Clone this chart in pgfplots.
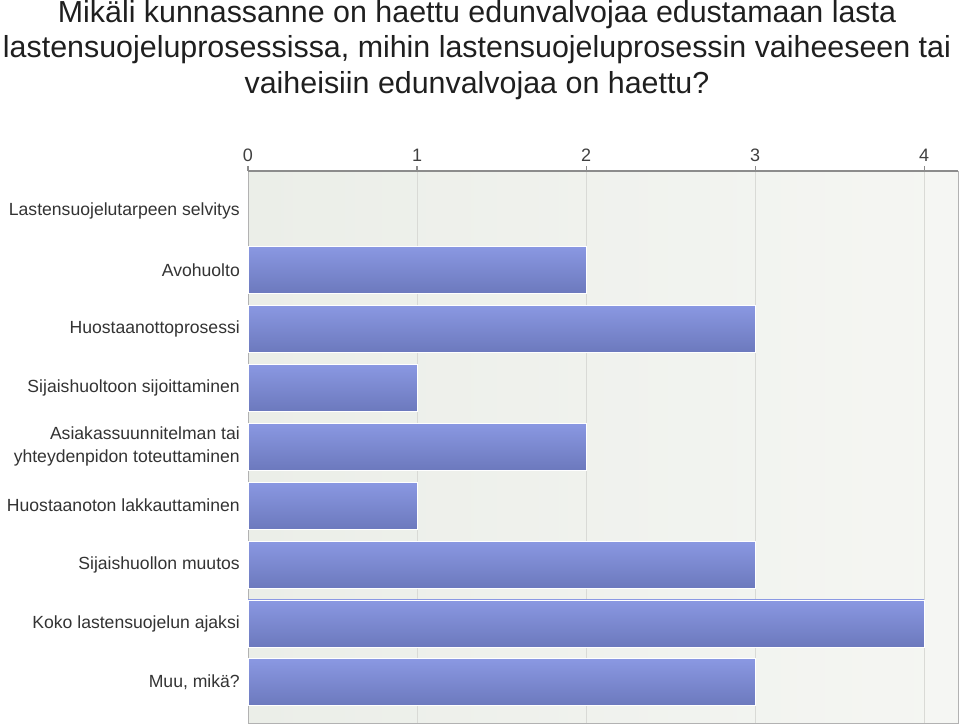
\documentclass[border=0pt]{standalone}
\usepackage{pgfplots}
\pgfplotsset{compat=1.18}
\usepackage{fontspec}
\setmainfont{Liberation Sans}
\definecolor{barTop}{HTML}{8A98E2}
\definecolor{barBot}{HTML}{6C79BD}
\definecolor{bgL}{HTML}{EBEEE8}
\definecolor{bgR}{HTML}{F5F6F3}
\definecolor{gridc}{HTML}{D9DAD6}
\definecolor{axc}{HTML}{8C8C8C}
\definecolor{txt}{HTML}{333333}
\pgfplotsset{mybar/.style={xbar, bar width=47pt, bar shift=0pt, draw=white, line width=0.8pt, top color=barTop, bottom color=barBot, mark=none}}
\begin{document}
\begin{tikzpicture}
\useasboundingbox (0pt,0pt) rectangle (960pt,-726pt);
\node[font=\fontsize{30.4}{35.5}\selectfont, align=center, text=black!88, inner sep=0pt] at (477pt,-50pt)
  {Mikäli kunnassanne on haettu edunvalvojaa edustamaan lasta\\lastensuojeluprosessissa, mihin lastensuojeluprosessin vaiheeseen tai\\vaiheisiin edunvalvojaa on haettu?};
\begin{axis}[
  at={(248pt,-171pt)}, anchor=north west,
  scale only axis, width=710pt, height=552pt,
  xmin=0, xmax=4.2, ymin=-0.68, ymax=8.69, y dir=reverse,
  axis background/.style={left color=bgL, right color=bgR},
  xtick={0,1,2,3,4}, xticklabel pos=upper, xtick pos=upper, xtick align=outside,
  major tick length=5pt,
  x tick style={axc, line width=1.2pt},
  xticklabel style={font=\fontsize{18}{20}\selectfont, text=black!75, inner sep=0pt, yshift=4pt},
  /pgf/number format/assume math mode=true,
  xmajorgrids, grid style={gridc, line width=1pt},
  ytick={0,1,2,3,4,5,6,7,8}, ytick style={draw=none}, ytick align=inside,
  yticklabels={Lastensuojelutarpeen selvitys, Avohuolto, Huostaanottoprosessi, Sijaishuoltoon sijoittaminen, {Asiakassuunnitelman tai\\yhteydenpidon toteuttaminen}, Huostaanoton lakkauttaminen, Sijaishuollon muutos, Koko lastensuojelun ajaksi, {Muu, mikä?}},
  yticklabel style={font=\fontsize{17.6}{23}\selectfont, text=txt, align=right, inner sep=0pt, xshift=-8pt},
  axis line style={draw=black!30, line width=0.8pt},
  after end axis/.code={\draw[axc, line width=2.2pt] (axis description cs:0,1) -- (axis description cs:1,1);},
]
\addplot[mybar, draw=none] coordinates {(0,0)};
\addplot[mybar] coordinates {(2,1)};
\addplot[mybar] coordinates {(3,2)};
\addplot[mybar] coordinates {(1,3)};
\addplot[mybar] coordinates {(2,4)};
\addplot[mybar] coordinates {(1,5)};
\addplot[mybar] coordinates {(3,6)};
\addplot[mybar] coordinates {(4,7)};
\addplot[mybar] coordinates {(3,8)};
\end{axis}
\end{tikzpicture}
\end{document}
